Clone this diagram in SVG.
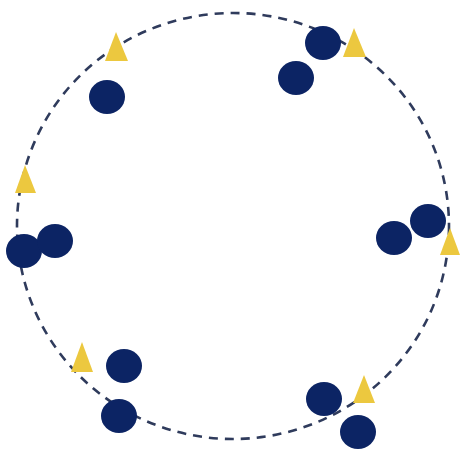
<svg xmlns="http://www.w3.org/2000/svg" width="461" height="449" viewBox="0 0 461 449">
<style>
.ring{fill:none;stroke:#2f3b5c;stroke-width:2.6;stroke-dasharray:9 7}
.dot{fill:#0c2464}
.tri{fill:#ecc83f}
</style>
<rect width="461" height="449" fill="#ffffff"/>
<g id="connectors">
<ellipse class="ring" cx="233" cy="226" rx="216" ry="213"/>
</g>
<g id="t1"><polygon class="tri" points="116,32 105,61 128,61"/></g>
<g id="t2"><polygon class="tri" points="25,165 15,193 36,193"/></g>
<g id="t3"><polygon class="tri" points="354,28 343,57 366,57"/></g>
<g id="t4"><polygon class="tri" points="450,228 440,255 460,255"/></g>
<g id="t5"><polygon class="tri" points="82,342 71,372 93,372"/></g>
<g id="t6"><polygon class="tri" points="364,375 353,403 375,403"/></g>
<g id="c1"><ellipse class="dot" cx="107" cy="97" rx="18" ry="17"/></g>
<g id="c2"><ellipse class="dot" cx="323" cy="43" rx="18" ry="17"/></g>
<g id="c3"><ellipse class="dot" cx="296" cy="78" rx="18" ry="17"/></g>
<g id="c4"><ellipse class="dot" cx="24" cy="251" rx="18" ry="17"/></g>
<g id="c5"><ellipse class="dot" cx="55" cy="241" rx="18" ry="17"/></g>
<g id="c6"><ellipse class="dot" cx="124" cy="366" rx="18" ry="17"/></g>
<g id="c7"><ellipse class="dot" cx="119" cy="416" rx="18" ry="17"/></g>
<g id="c8"><ellipse class="dot" cx="394" cy="238" rx="18" ry="17"/></g>
<g id="c9"><ellipse class="dot" cx="428" cy="221" rx="18" ry="17"/></g>
<g id="c10"><ellipse class="dot" cx="324" cy="399" rx="18" ry="17"/></g>
<g id="c11"><ellipse class="dot" cx="358" cy="432" rx="18" ry="17"/></g>
</svg>
